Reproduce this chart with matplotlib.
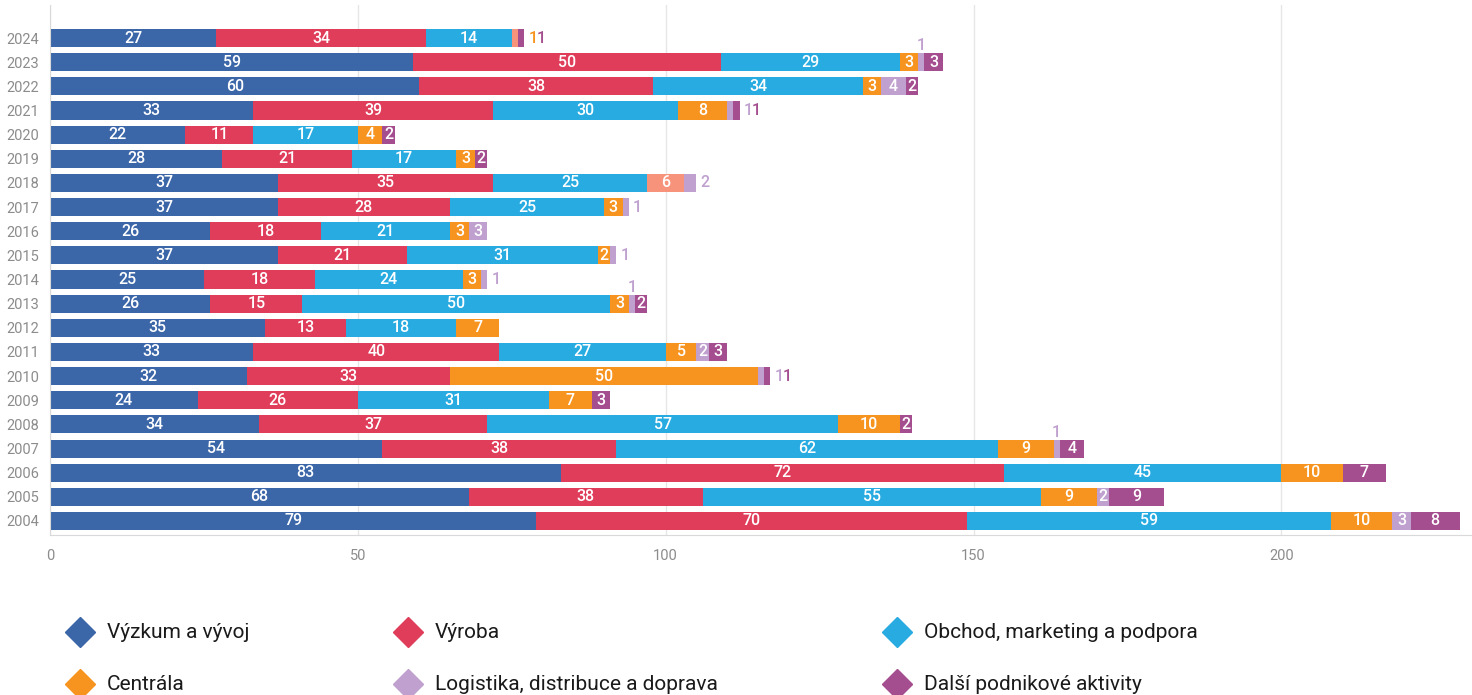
import matplotlib.pyplot as plt
from matplotlib.lines import Line2D
import numpy as np

plt.rcParams['font.family'] = ['Roboto', 'DejaVu Sans']

# Years shown top to bottom
years = ["2024", "2023", "2022", "2021", "2020", "2019", "2018", "2017", "2016", "2015", "2014",
         "2013", "2012", "2011", "2010", "2009", "2008", "2007", "2006", "2005", "2004"]

# Series values (one per year, same order as years)
vyzkum = [27, 59, 60, 33, 22, 28, 37, 37, 26, 37, 25, 26, 35, 33, 32, 24, 34, 54, 83, 68, 79]
vyroba = [34, 50, 38, 39, 11, 21, 35, 28, 18, 21, 18, 15, 13, 40, 33, 26, 37, 38, 72, 38, 70]
obchod = [14, 29, 34, 30, 17, 17, 25, 25, 21, 31, 24, 50, 18, 27, 0, 31, 57, 62, 45, 55, 59]
centrala = [0, 3, 3, 8, 4, 3, 0, 3, 3, 2, 3, 3, 7, 5, 50, 7, 10, 9, 10, 9, 10]
ostatni = [1, 0, 0, 0, 0, 0, 6, 0, 0, 0, 0, 0, 0, 0, 0, 0, 0, 0, 0, 0, 0]
logistika = [0, 1, 4, 1, 0, 0, 2, 1, 3, 1, 1, 1, 0, 2, 1, 0, 0, 1, 0, 2, 3]
dalsi = [1, 3, 2, 1, 2, 2, 0, 0, 0, 0, 0, 2, 0, 3, 1, 3, 2, 4, 7, 9, 8]

series = [vyzkum, vyroba, obchod, centrala, ostatni, logistika, dalsi]
names = ["Výzkum a vývoj", "Výroba", "Obchod, marketing a podpora",
         "Centrála", "Ostatní", "Logistika, distribuce a doprava", "Další podnikové aktivity"]
colors = ["#3b66a8", "#e03d5b", "#27abe1", "#f7941f", "#f7937b", "#bfa0cf", "#a44d8f"]
label_colors = ["#3b66a8", "#e03d5b", "#27abe1", "#f7941f", "#f7941f", "#bfa0cf", "#a44d8f"]

fig = plt.figure(figsize=(14.72, 6.95), dpi=100)
ax = fig.add_axes([50 / 1472, 1 - 535 / 695, 1 - 51 / 1472, 530 / 695])

y = np.arange(len(years))
left = np.zeros(len(years))
for vals, col in zip(series, colors):
    ax.barh(y, vals, left=left, height=0.75, color=col, zorder=2)
    left += np.array(vals)


def is_small(k, v, last):
    # labels that don't fit inside their segment
    return v <= 1 or (last and k == 5 and v <= 2)


# value labels
for i in range(len(years)):
    segs = [(k, series[k][i]) for k in range(len(series)) if series[k][i] > 0]
    start = 0
    total = sum(v for _, v in segs)
    n = len(segs)
    trailing = n
    while trailing > 0 and is_small(segs[trailing - 1][0], segs[trailing - 1][1], trailing == n):
        trailing -= 1
    off = 3
    for j, (k, v) in enumerate(segs):
        mid = start + v / 2
        if j >= trailing:
            ax.annotate(str(v), (total, i), xytext=(off, 0), textcoords='offset points',
                        ha='left', va='center', fontsize=11.5, fontweight='medium',
                        color=label_colors[k])
            off += 6
        elif v <= 1:
            ax.annotate(str(v), (mid, i - 0.375), xytext=(0, 0), textcoords='offset points',
                        ha='center', va='bottom', fontsize=11.5, fontweight='medium',
                        color=label_colors[k])
        else:
            ax.text(mid, i, str(v), ha='center', va='center', fontsize=11.5,
                    fontweight='medium', color='white', zorder=3)
        start += v

ax.set_yticks(y)
ax.set_yticklabels(years)
ax.set_ylim(len(years) - 1 + 0.58, -1.37)
ax.set_xlim(0, 230.8)
ax.set_xticks([0, 50, 100, 150, 200])
ax.tick_params(axis='both', length=0, labelsize=10.5, colors='#8c8c8c')
ax.tick_params(axis='x', pad=10)
ax.tick_params(axis='y', pad=8)
ax.grid(axis='x', color='#e6e6e6', linewidth=1, zorder=0)
ax.set_axisbelow(True)
for s in ['top', 'right']:
    ax.spines[s].set_visible(False)
ax.spines['left'].set_color('#d9d9d9')
ax.spines['bottom'].set_color('#d9d9d9')

# legend drawn by hand (three columns)
legend_items = [0, 1, 2, 3, 5, 6]
col_x = [80, 408, 897]
row_y = [632, 684]
for n, k in enumerate(legend_items):
    px = col_x[n % 3]
    py = row_y[n // 3]
    fig.add_artist(Line2D([px / 1472], [1 - py / 695], marker='D', markersize=15,
                          color=colors[k], linestyle='none', transform=fig.transFigure))
    fig.text((px + 27) / 1472, 1 - py / 695, names[k], ha='left', va='center',
             fontsize=15, color='#1a1a1a')

fig.savefig('out.png', dpi=100)
